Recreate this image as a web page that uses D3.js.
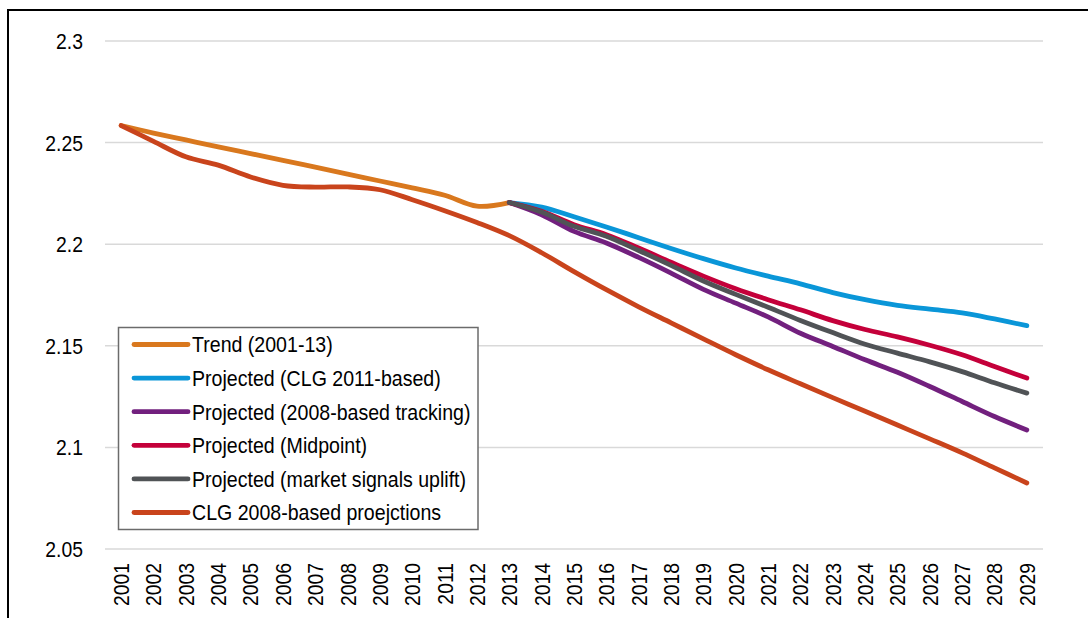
<!DOCTYPE html>
<html>
<head>
<meta charset="utf-8">
<script src="https://cdn.jsdelivr.net/npm/d3@7"></script>
<style>
  html, body { margin: 0; padding: 0; background: #fff; }
  svg { display: block; }
  text { font-family: "Liberation Sans", Arial, sans-serif; fill: #000; }
</style>
</head>
<body>
<svg id="chart" width="1088" height="618"></svg>
<script>
// ---- data ----
const years = ["2001","2002","2003","2004","2005","2006","2007","2008","2009","2010",
  "2011","2012","2013","2014","2015","2016","2017","2018","2019","2020",
  "2021","2022","2023","2024","2025","2026","2027","2028","2029"];
const yTicks = [2.05, 2.1, 2.15, 2.2, 2.25, 2.3];
const yTickLabels = ["2.05", "2.1", "2.15", "2.2", "2.25", "2.3"];

const trend = [2.2584, 2.2547, 2.2513, 2.2479, 2.2446, 2.2413, 2.2379, 2.2345, 2.2311, 2.2277,
  2.2241, 2.2187, 2.2205];
const clg2011 = [null, null, null, null, null, null, null, null, null, null, null, null,
  2.2205, 2.2182, 2.2135, 2.2085, 2.2032, 2.1979, 2.1929, 2.1883, 2.1843, 2.1805, 2.1762,
  2.1727, 2.1699, 2.1680, 2.1662, 2.1632, 2.1599];
const tracking2008 = [null, null, null, null, null, null, null, null, null, null, null, null,
  2.2205, 2.2145, 2.2063, 2.2006, 2.1935, 2.1858, 2.1778, 2.1710, 2.1642, 2.1562, 2.1497,
  2.1431, 2.1370, 2.1300, 2.1226, 2.1152, 2.1086];
const midpoint = [null, null, null, null, null, null, null, null, null, null, null, null,
  2.2205, 2.2162, 2.2096, 2.2047, 2.1981, 2.1911, 2.1843, 2.1781, 2.1727, 2.1677, 2.1624,
  2.1580, 2.1544, 2.1503, 2.1456, 2.1398, 2.1341];
const marketUplift = [null, null, null, null, null, null, null, null, null, null, null, null,
  2.2205, 2.2158, 2.2088, 2.2039, 2.1969, 2.1896, 2.1819, 2.1753, 2.1690, 2.1625, 2.1565,
  2.1508, 2.1464, 2.1421, 2.1373, 2.1318, 2.1267];
const clg2008 = [2.2584, 2.2506, 2.2430, 2.2389, 2.2331, 2.2290, 2.2281, 2.2282, 2.2268, 2.2219,
  2.2165, 2.2107, 2.2042, 2.1958, 2.1865, 2.1776, 2.1692, 2.1613, 2.1534, 2.1456, 2.1382,
  2.1313, 2.1245, 2.1178, 2.1110, 2.1042, 2.0973, 2.0899, 2.0825];

const seriesNames = ["Trend (2001-13)", "Projected (CLG 2011-based)", "Projected (2008-based tracking)",
  "Projected (Midpoint)", "Projected (market signals uplift)", "CLG 2008-based proejctions"];
const seriesValues = [trend, clg2011, tracking2008, midpoint, marketUplift, clg2008];
const seriesColors = ["#D9781E", "#0A96D8", "#72207E", "#C4003A", "#505356", "#C9441C"];

// ---- drawing ----
const svg = d3.select("#chart");
const SX = 0.88; // horizontal text compression
const FS = 22;

const x = d3.scalePoint().domain(years).range([105, 1043]).padding(0.5);
const y = d3.scaleLinear().domain([2.05, 2.3]).range([549, 41]);

// frame
svg.append("line").attr("x1", 8).attr("x2", 1088).attr("y1", 10).attr("y2", 10)
  .attr("stroke", "#000").attr("stroke-width", 2);
svg.append("line").attr("x1", 8).attr("x2", 8).attr("y1", 9).attr("y2", 618)
  .attr("stroke", "#000").attr("stroke-width", 2);

// gridlines
svg.append("g").selectAll("line").data(yTicks).join("line")
  .attr("x1", 105).attr("x2", 1043)
  .attr("y1", d => y(d)).attr("y2", d => y(d))
  .attr("stroke", "#d9d9d9").attr("stroke-width", 1.5);

// y labels
svg.append("g").selectAll("text").data(yTicks).join("text")
  .attr("transform", d => `translate(83,${y(d)}) scale(${SX},1)`)
  .attr("dy", "0.36em")
  .attr("text-anchor", "end")
  .style("font-size", FS + "px")
  .text((d, i) => yTickLabels[i]);

// x labels
svg.append("g").selectAll("text").data(years).join("text")
  .attr("transform", d => `translate(${x(d)},563) rotate(-90) scale(${SX},1)`)
  .attr("dy", "0.36em")
  .attr("text-anchor", "end")
  .style("font-size", FS + "px")
  .text(d => d);

// lines
const line = d3.line()
  .defined(d => d.v != null)
  .x(d => x(d.year))
  .y(d => y(d.v))
  .curve(d3.curveCatmullRom.alpha(0.5));

const drawOrder = [0, 5, 1, 2, 3, 4];
svg.append("g").selectAll("path").data(drawOrder).join("path")
  .attr("d", i => line(years.map((yr, j) => ({ year: yr, v: j < seriesValues[i].length ? seriesValues[i][j] : null }))))
  .attr("fill", "none")
  .attr("stroke", i => seriesColors[i])
  .attr("stroke-width", 4.8)
  .attr("stroke-linecap", "round")
  .attr("stroke-linejoin", "round");

// legend
const lg = svg.append("g");
lg.append("rect").attr("x", 118.5).attr("y", 327.5).attr("width", 359.5).attr("height", 202)
  .attr("fill", "#fff").attr("stroke", "#6b6b6b").attr("stroke-width", 1.5);
const rows = lg.selectAll("g.row").data(seriesNames).join("g")
  .attr("class", "row")
  .attr("transform", (d, i) => `translate(0,${344.5 + i * 33.6})`);
rows.append("line").attr("x1", 134).attr("x2", 188).attr("y1", 0).attr("y2", 0)
  .attr("stroke", (d, i) => seriesColors[i]).attr("stroke-width", 4.8)
  .attr("stroke-linecap", "round");
rows.append("text")
  .attr("transform", `translate(192,0) scale(0.89,1)`)
  .attr("dy", "0.36em")
  .style("font-size", FS + "px")
  .text(d => d);
</script>
</body>
</html>
